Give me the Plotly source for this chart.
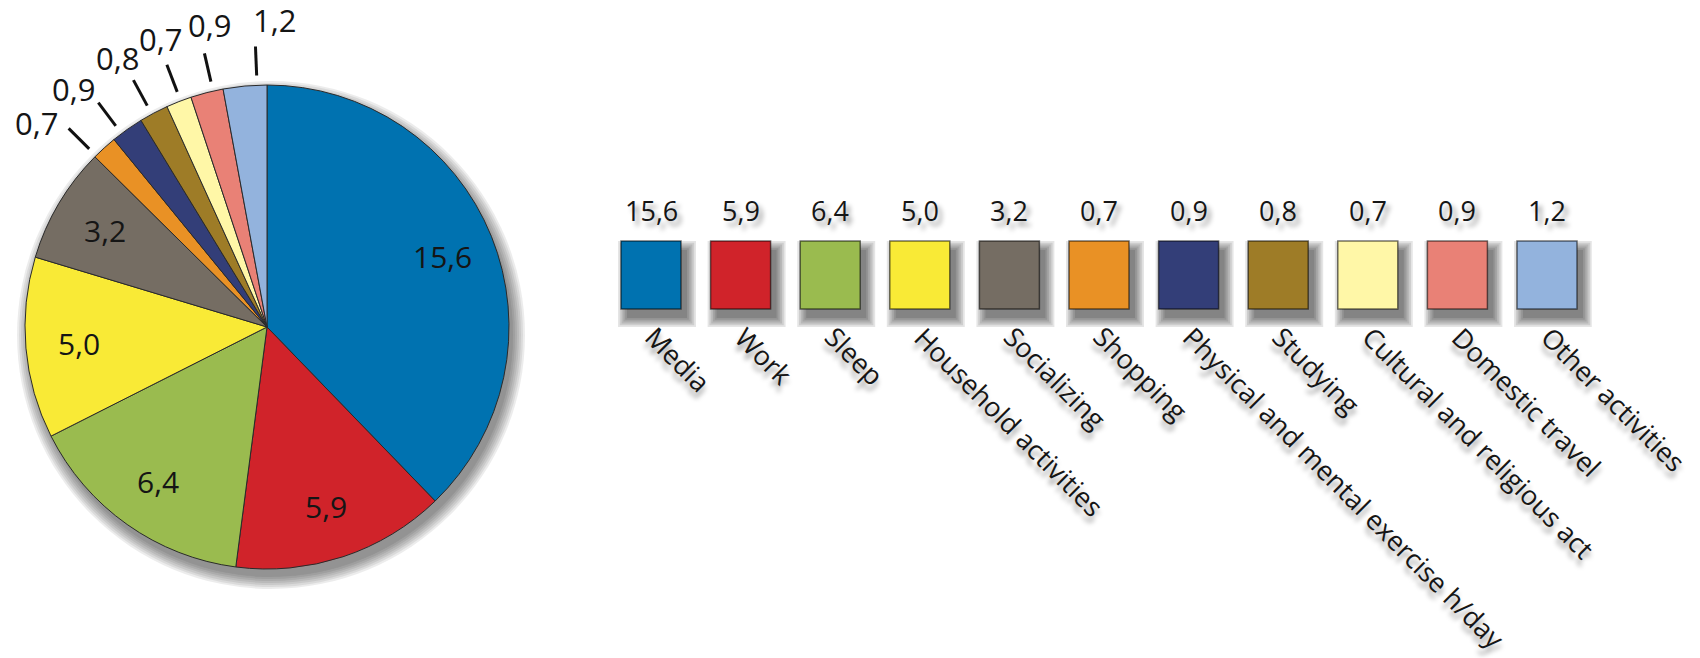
import numpy as np
import plotly.graph_objects as go

# ---------------- data ----------------
categories = [
    "Media", "Work", "Sleep", "Household activities", "Socializing", "Shopping",
    "Physical and mental exercise h/day", "Studying", "Cultural and religious act",
    "Domestic travel", "Other activities",
]
hours = [15.6, 5.9, 6.4, 5.0, 3.2, 0.7, 0.9, 0.8, 0.7, 0.9, 1.2]
colors = [
    "#0072B0", "#D0232A", "#9ABB4F", "#F9EA36", "#756D63", "#E99125",
    "#333E78", "#9E7C27", "#FFF7A7", "#E98176", "#93B3DD",
]
value_labels = [f"{v:.1f}".replace(".", ",") for v in hours]

# ---------------- geometry ----------------
W, H = 1700, 658
CX, CY, R = 267, 327, 242          # pie centre / radius in pixels
FONT = "Open Sans, Liberation Sans, sans-serif"
TXT = "#151515"


def to_paper(px, py):
    return px / W, 1 - py / H


def polar(r, ang):
    a = np.radians(ang)
    return CX + r * np.sin(a), CY - r * np.cos(a)


vals = np.array(hours, dtype=float)
cum = np.cumsum(vals)
total = cum[-1]
mid = (cum - vals / 2) / total * 360.0
small = vals < 3
c_small = mid[small].mean()

fig = go.Figure()

# soft shadow under the pie
for k in range(7):
    rr = R + 2 * k
    sx, sy = CX + 4, CY + 8
    x0, y1 = to_paper(sx - rr, sy - rr)
    x1, y0 = to_paper(sx + rr, sy + rr)
    fig.add_shape(type="circle", xref="paper", yref="paper", x0=x0, x1=x1, y0=y0, y1=y1,
                  fillcolor="rgba(0,0,0,0.075)", line=dict(width=0), layer="below")

fig.add_trace(go.Pie(
    labels=categories, values=hours, sort=False, direction="clockwise", rotation=0,
    marker=dict(colors=colors, line=dict(color="#2a2a2a", width=1)),
    textinfo="none", hoverinfo="label+value", showlegend=False,
    domain=dict(x=[(CX - R) / W, (CX + R) / W], y=[1 - (CY + R) / H, 1 - (CY - R) / H]),
))

annotations = []
# labels inside large slices
for i in np.where(~small)[0]:
    px, py = polar(0.78 * R, mid[i])
    x, y = to_paper(px, py)
    annotations.append(dict(x=x, y=y, xref="paper", yref="paper", text=value_labels[i],
                            xanchor="center", yanchor="middle",
                            showarrow=False, font=dict(family=FONT, size=30, color=TXT)))
# labels + leader lines for small slices
for i in np.where(small)[0]:
    phi = c_small + 1.15 * (mid[i] - c_small)
    psi = c_small + 1.35 * (mid[i] - c_small)
    ax0, ay0 = polar(1.04 * R, phi)
    ax1, ay1 = polar(1.16 * R, phi)
    x0, y0 = to_paper(ax0, ay0)
    x1, y1 = to_paper(ax1, ay1)
    fig.add_shape(type="line", xref="paper", yref="paper", x0=x0, y0=y0, x1=x1, y1=y1,
                  line=dict(color="#111111", width=3))
    lx, ly = polar(1.27 * R, psi)
    x, y = to_paper(lx, ly)
    annotations.append(dict(x=x, y=y, xref="paper", yref="paper", text=value_labels[i],
                            xanchor="center", yanchor="middle",
                            showarrow=False, font=dict(family=FONT, size=31, color=TXT)))

# ---------------- legend squares (bars) ----------------
STEP = 89.6           # px between square centres
SQW, SQH = 60, 68     # square size px
FIRST = 651           # centre of first square px
SQ_TOP, SQ_BOT = 241, 309
n = len(categories)
bw = SQW / STEP
ylo, yhi = -0.35, 1.25
dom_bot = SQ_BOT + (-ylo) * SQH
dom_top = dom_bot - (yhi - ylo) * SQH

# layered soft shadow
for k in range(6):
    e = 1.8 * k
    dx, dy = 6, 9
    fig.add_trace(go.Bar(
        x=categories, y=[(SQH + 2 * e) / SQH] * n, base=[-(dy + e) / SQH] * n,
        width=(SQW + 2 * e) / STEP, offset=(-SQW / 2 + dx - e) / STEP,
        marker=dict(color="rgba(0,0,0,0.1)", line=dict(width=0)),
        hoverinfo="skip", showlegend=False,
    ))

fig.add_trace(go.Bar(
    x=categories, y=[1] * n, base=[0] * n, width=bw, offset=-bw / 2,
    marker=dict(color=colors, line=dict(color="rgba(0,0,0,0.55)", width=1.5)),
    customdata=hours, hovertemplate="%{x}: %{customdata}<extra></extra>", showlegend=False,
))

shadow = "4px 5px 5px rgba(0,0,0,0.4)"
for i, cat in enumerate(categories):
    annotations.append(dict(x=cat, xref="x", y=1 - 211 / H, yref="paper", text=value_labels[i],
                            showarrow=False, xanchor="center", yanchor="middle",
                            font=dict(family=FONT, size=27, color=TXT, shadow=shadow)))
    annotations.append(dict(x=cat, xref="x", y=1 - 316 / H, yref="paper", text=cat,
                            showarrow=False, xanchor="left", yanchor="top", xshift=-16,
                            textangle=45,
                            font=dict(family=FONT, size=27, color=TXT, shadow=shadow)))

fig.update_layout(
    width=W, height=H, margin=dict(l=0, r=0, t=0, b=0),
    paper_bgcolor="white", plot_bgcolor="rgba(0,0,0,0)",
    barmode="overlay", showlegend=False,
    xaxis=dict(domain=[(FIRST - STEP / 2) / W, (FIRST + (n - 0.5) * STEP) / W],
               type="category", range=[-0.5, n - 0.5], visible=False, fixedrange=True),
    yaxis=dict(domain=[1 - dom_bot / H, 1 - dom_top / H], range=[ylo, yhi],
               visible=False, fixedrange=True),
    annotations=annotations,
)

fig.write_html("out.html")
